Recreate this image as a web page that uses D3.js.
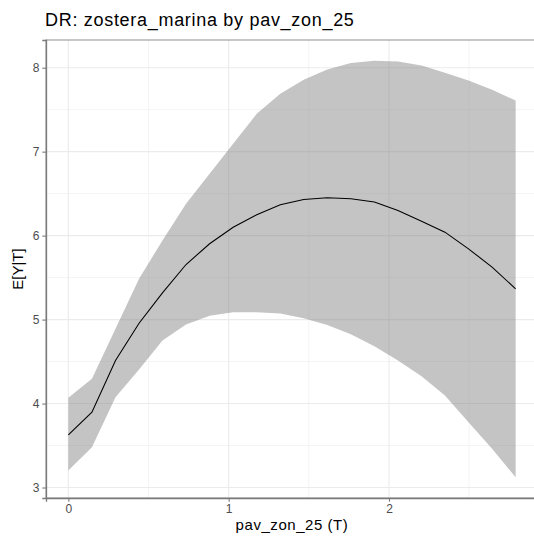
<!DOCTYPE html>
<html>
<head>
<meta charset="utf-8">
<script src="https://cdn.jsdelivr.net/npm/d3@7"></script>
<style>
  body { margin: 0; background: #fff; }
  text { font-family: "Liberation Sans", Arial, sans-serif; }
</style>
</head>
<body>
<div id="chart"></div>
<script>
// dose-response curve: treatment grid, estimate, lower and upper band
var doseX = [0, 0.147, 0.294, 0.441, 0.587, 0.734, 0.881, 1.028, 1.175, 1.322,
             1.468, 1.615, 1.762, 1.909, 2.056, 2.203, 2.349, 2.496, 2.643, 2.79];
var estimate = [3.628, 3.897, 4.513, 4.957, 5.319, 5.656, 5.903, 6.10, 6.248, 6.367,
                6.43, 6.451, 6.439, 6.40, 6.30, 6.172, 6.041, 5.843, 5.624, 5.367];
var upper = [4.068, 4.295, 4.89, 5.486, 5.942, 6.38, 6.737, 7.094, 7.451, 7.69,
             7.857, 7.98, 8.055, 8.082, 8.074, 8.025, 7.94, 7.848, 7.737, 7.61];
var lower = [3.203, 3.48, 4.076, 4.405, 4.751, 4.94, 5.045, 5.088, 5.088, 5.073,
             5.017, 4.937, 4.826, 4.683, 4.513, 4.326, 4.096, 3.778, 3.461, 3.123];
var xTicks = [0, 1, 2];
var yTicks = [3, 4, 5, 6, 7, 8];
var xMinor = [0.5, 1.5, 2.5];
var yMinor = [3.5, 4.5, 5.5, 6.5, 7.5];

var W = 534, H = 541;
// panel box (right edge runs past the window, as in the reference)
var pLeft = 46, pTop = 40, pRight = 538, pBottom = 498;

var svg = d3.select("#chart").append("svg")
  .attr("width", W)
  .attr("height", H);

// ggplot style 5% expansion
function expand(ext) {
  var pad = (ext[1] - ext[0]) * 0.05;
  return [ext[0] - pad, ext[1] + pad];
}

var x = d3.scaleLinear()
  .domain(expand(d3.extent(doseX)))
  .range([pLeft, pRight]);
var y = d3.scaleLinear()
  .domain(expand([d3.min(lower), d3.max(upper)]))
  .range([pBottom, pTop]);

var rows = doseX.map(function(d, i) {
  return { x: d, est: estimate[i], lo: lower[i], hi: upper[i] };
});

// minor grid
svg.append("g").selectAll("line")
  .data(xMinor).enter().append("line")
  .attr("x1", function(d) { return x(d); }).attr("x2", function(d) { return x(d); })
  .attr("y1", pTop).attr("y2", pBottom)
  .attr("stroke", "#f4f4f4").attr("stroke-width", 1);
svg.append("g").selectAll("line")
  .data(yMinor).enter().append("line")
  .attr("y1", function(d) { return y(d); }).attr("y2", function(d) { return y(d); })
  .attr("x1", pLeft).attr("x2", pRight)
  .attr("stroke", "#f4f4f4").attr("stroke-width", 1);

// major grid
svg.append("g").selectAll("line")
  .data(xTicks).enter().append("line")
  .attr("x1", function(d) { return x(d); }).attr("x2", function(d) { return x(d); })
  .attr("y1", pTop).attr("y2", pBottom)
  .attr("stroke", "#ebebeb").attr("stroke-width", 1.1);
svg.append("g").selectAll("line")
  .data(yTicks).enter().append("line")
  .attr("y1", function(d) { return y(d); }).attr("y2", function(d) { return y(d); })
  .attr("x1", pLeft).attr("x2", pRight)
  .attr("stroke", "#ebebeb").attr("stroke-width", 1.1);

// band
var area = d3.area()
  .x(function(d) { return x(d.x); })
  .y0(function(d) { return y(d.lo); })
  .y1(function(d) { return y(d.hi); });
svg.append("path")
  .datum(rows)
  .attr("d", area)
  .attr("fill", "#7f7f7f")
  .attr("fill-opacity", 0.46);

// estimate line
var line = d3.line()
  .x(function(d) { return x(d.x); })
  .y(function(d) { return y(d.est); });
svg.append("path")
  .datum(rows)
  .attr("d", line)
  .attr("fill", "none")
  .attr("stroke", "#000")
  .attr("stroke-width", 1.07);

// panel border
svg.append("rect")
  .attr("x", pLeft).attr("y", pTop)
  .attr("width", pRight - pLeft).attr("height", pBottom - pTop)
  .attr("fill", "none")
  .attr("stroke", "#999")
  .attr("stroke-width", 1.1);

// axes
var xAxis = svg.append("g")
  .attr("transform", "translate(0," + pBottom + ")")
  .call(d3.axisBottom(x).tickValues(xTicks).tickSize(3.7).tickPadding(3).tickFormat(d3.format("d")));
var yAxis = svg.append("g")
  .attr("transform", "translate(" + pLeft + ",0)")
  .call(d3.axisLeft(y).tickValues(yTicks).tickSize(3.7).tickPadding(3).tickFormat(d3.format("d")));
[xAxis, yAxis].forEach(function(a) {
  a.select(".domain").attr("stroke", "#7a7a7a").attr("stroke-width", 1.3);
  a.selectAll(".tick line").attr("stroke", "#7a7a7a").attr("stroke-width", 1.1);
  a.selectAll(".tick text")
    .attr("fill", "#4d4d4d")
    .style("font-size", "12px")
    .style("font-family", "Liberation Sans, Arial, sans-serif");
});

// titles
svg.append("text")
  .attr("x", pLeft - 1).attr("y", 26)
  .attr("font-size", "18px")
  .attr("letter-spacing", "0.7px")
  .attr("fill", "#000")
  .text("DR: zostera_marina by pav_zon_25");

svg.append("text")
  .attr("x", (pLeft + pRight) / 2).attr("y", 530)
  .attr("text-anchor", "middle")
  .attr("font-size", "15px")
  .attr("letter-spacing", "0.55px")
  .attr("fill", "#000")
  .text("pav_zon_25 (T)");

svg.append("text")
  .attr("transform", "translate(23," + ((pTop + pBottom) / 2) + ") rotate(-90)")
  .attr("text-anchor", "middle")
  .attr("font-size", "15px")
  .attr("fill", "#000")
  .text("E[Y|T]");
</script>
</body>
</html>
